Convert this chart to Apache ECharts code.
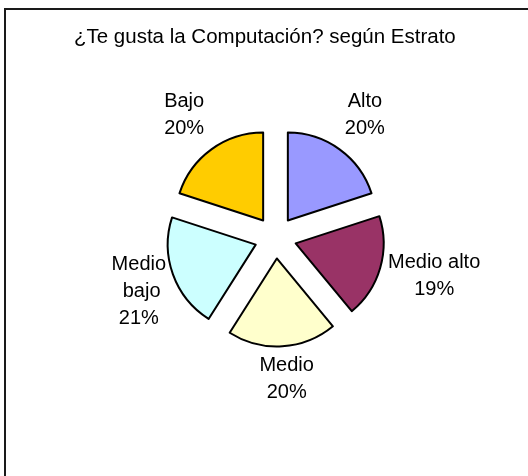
<!DOCTYPE html>
<html>
<head>
<meta charset="utf-8">
<script src="https://cdn.jsdelivr.net/npm/echarts@6/dist/echarts.min.js"></script>
<style>
  html, body { margin: 0; padding: 0; background: #ffffff; }
  #chart { width: 528px; height: 476px; }
</style>
</head>
<body>
<div id="chart"></div>
<script>
// Survey answers by social stratum (percent of respondents)
const categories = ['Alto', 'Medio alto', 'Medio', 'Medio bajo', 'Bajo'];
const shares = [20, 19, 20, 21, 20];
const sliceColors = ['#9999FF', '#993366', '#FFFFCC', '#CCFFFF', '#FFCC00'];

const FONT = '"Liberation Sans", Arial, Helvetica, sans-serif';

// Where each outside label sits relative to its slice (leader lines are hidden)
const labelPlacement = {
  'Alto':       { length: 43, length2: -25 },
  'Medio alto': { length: 29, length2: -25 },
  'Medio':      { length: 33, length2: -30 },
  'Medio bajo': { length: 49, length2: -47, width: 60 },
  'Bajo':       { length: 43, length2: -23 }
};

const pieData = categories.map((name, i) => {
  const p = labelPlacement[name];
  const item = {
    name: name,
    value: shares[i],
    selected: true,
    itemStyle: { color: sliceColors[i] },
    labelLine: { show: false, length: p.length, length2: p.length2 }
  };
  if (p.width) {
    item.label = { width: p.width, overflow: 'break' };
  }
  return item;
});

const chart = echarts.init(document.getElementById('chart'), null, { renderer: 'canvas' });

chart.setOption({
  backgroundColor: '#ffffff',
  animation: false,
  title: {
    text: '¿Te gusta la Computación? según Estrato',
    left: 69,
    top: 22,
    textStyle: { fontFamily: FONT, fontSize: 20.5, fontWeight: 'normal', color: '#000000' }
  },
  graphic: [{
    type: 'rect',
    shape: { x: 5, y: 9, width: 600, height: 600 },
    style: { fill: 'none', stroke: '#1a1a1a', lineWidth: 2 },
    silent: true
  }],
  series: [{
    type: 'pie',
    center: [275.5, 237.5],
    radius: 88,
    startAngle: 90,
    clockwise: true,
    selectedMode: 'multiple',
    selectedOffset: 21,
    avoidLabelOverlap: false,
    emphasis: { disabled: true },
    itemStyle: { borderColor: '#000000', borderWidth: 2 },
    label: {
      show: true,
      position: 'outside',
      formatter: '{b}\n{c}%',
      fontFamily: FONT,
      fontSize: 20,
      lineHeight: 27,
      color: '#000000',
      distanceToLabelLine: 5
    },
    labelLine: { show: false },
    // keep each label's lines centred on one another
    labelLayout: function (p) {
      const half = p.labelRect.width / 2;
      let dx = 0;
      if (p.align === 'left') dx = half;
      else if (p.align === 'right') dx = -half;
      return { align: 'center', dx: dx };
    },
    data: pieData
  }]
});
</script>
</body>
</html>
